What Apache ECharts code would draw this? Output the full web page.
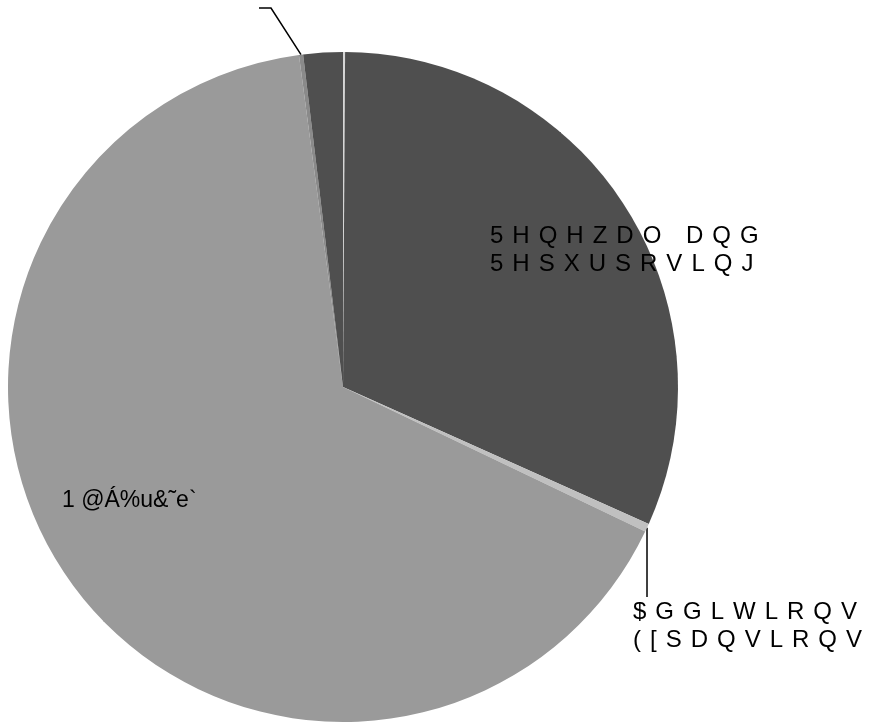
<!DOCTYPE html>
<html>
<head>
<meta charset="utf-8">
<script src="https://cdn.jsdelivr.net/npm/echarts@6/dist/echarts.min.js"></script>
<style>
  html, body { margin: 0; padding: 0; background: #ffffff; }
  #chart { width: 869px; height: 725px; }
</style>
</head>
<body>
<div id="chart"></div>
<script>
// Slice names and their shares (percent), clockwise from 12 o'clock
const categories = ['', '5HQHZDO DQG\n5HSXUSRVLQJ', '$GGLWLRQV\n([SDQVLRQV', '1 @Á%u&˜e`', ' ', ''];
const shares = [0.1, 31.6, 0.4, 65.8, 0.2, 1.9];

// Palette, one colour per slice
const sliceColors = ['#d6d6d6', '#4f4f4f', '#c0c0c0', '#9a9a9a', '#8a8a8a', '#4f4f4f'];

const CX = 343, CY = 387, R = 335;
const FONT = '"Liberation Sans", Arial, sans-serif';
const FS = 23;
const FS_TRACKED = 24;
const LH = 28;

const measureCtx = document.createElement('canvas').getContext('2d');
measureCtx.font = FS_TRACKED + 'px ' + FONT;

// Build a rich-text label where every character gets extra tracking
function tracked(text, gap) {
  const rich = {};
  let n = 0;
  const lines = text.split('\n').map(function (line) {
    return Array.from(line).map(function (ch) {
      const key = 't' + (n++);
      rich[key] = {
        width: measureCtx.measureText(ch).width + gap,
        fontSize: FS_TRACKED, fontFamily: FONT, color: '#000000', lineHeight: LH
      };
      return '{' + key + '|' + ch + '}';
    }).join('');
  });
  return { str: lines.join('\n'), rich: rich };
}

// Point on the rim at the middle of slice i
function rimMid(i) {
  const total = shares.reduce(function (a, b) { return a + b; }, 0);
  let before = 0;
  for (let k = 0; k < i; k++) before += shares[k];
  const a = (before + shares[i] / 2) / total * 2 * Math.PI;
  return [CX + R * Math.sin(a), CY - R * Math.cos(a)];
}

const renewal = tracked(categories[1], 9);
const additions = tracked(categories[2], 9);

// Where each shown label sits
const labelSpots = {
  1: { x: 490, y: 250, align: 'left', verticalAlign: 'middle' },
  2: { x: 633, y: 626, align: 'left', verticalAlign: 'middle',
       line: function () { const p = rimMid(2); return [p, [p[0], 597]]; } },
  3: { x: 62, y: 501, align: 'left', verticalAlign: 'middle' },
  4: { x: 259, y: 8, align: 'right', verticalAlign: 'middle',
       line: function () { const p = rimMid(4); return [p, [271, 8], [259, 8]]; } }
};

const guide = { show: true, smooth: false, lineStyle: { color: '#000000', width: 1.5 } };

const seriesData = categories.map(function (name, i) {
  const item = { name: name, value: shares[i], itemStyle: { color: sliceColors[i] } };
  if (i === 1) {
    item.label = { show: true, position: 'inside', formatter: function () { return renewal.str; }, rich: renewal.rich };
  } else if (i === 2) {
    item.label = { show: true, position: 'outside', formatter: function () { return additions.str; }, rich: additions.rich };
    item.labelLine = guide;
  } else if (i === 3) {
    item.label = { show: true, position: 'inside', formatter: function (p) { return p.name; },
                   fontSize: FS, fontFamily: FONT, color: '#000000', lineHeight: LH };
  } else if (i === 4) {
    item.label = { show: true, position: 'outside', formatter: function () { return ' '; },
                   fontSize: FS, fontFamily: FONT, color: '#000000' };
    item.labelLine = guide;
  } else {
    item.label = { show: false };
    item.labelLine = { show: false };
  }
  return item;
});

const chart = echarts.init(document.getElementById('chart'), null, { renderer: 'canvas' });
chart.setOption({
  backgroundColor: '#ffffff',
  animation: false,
  series: [{
    type: 'pie',
    center: [CX, CY],
    radius: [0, R],
    startAngle: 90,
    clockwise: true,
    avoidLabelOverlap: false,
    silent: true,
    itemStyle: { borderWidth: 0 },
    emphasis: { disabled: true },
    label: { fontFamily: FONT, fontSize: FS, color: '#000000' },
    labelLayout: function (p) {
      const spot = labelSpots[p.dataIndex];
      if (!spot) return {};
      const out = { x: spot.x, y: spot.y, align: spot.align, verticalAlign: spot.verticalAlign };
      if (spot.line) out.labelLinePoints = spot.line();
      return out;
    },
    data: seriesData
  }]
});
</script>
</body>
</html>
